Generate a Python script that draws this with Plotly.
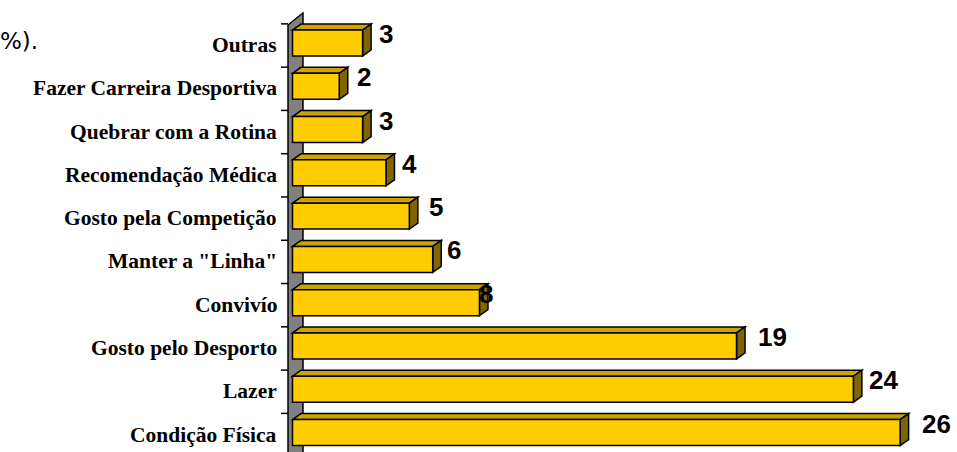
import plotly.graph_objects as go

# ---- data (bottom to top) ----
categories = ["Condição Física", "Lazer", "Gosto pelo Desporto", "Convivío",
              'Manter a "Linha"', "Gosto pela Competição", "Recomendação Médica",
              "Quebrar com a Rotina", "Fazer Carreira Desportiva", "Outras"]
values = [26, 24, 19, 8, 6, 5, 4, 3, 2, 3]
label_dx = [20, 14, 19, -2, 12, 18, 14, 14, 16, 14]   # label nudges (px)

# ---- geometry / style ----
W, H = 957, 452
PX_X = 23.37            # px per value unit
X0 = 292.5              # px position of value 0
YMIN, YMAX = -0.45, 9.9935
PX_Y = H / (YMAX - YMIN)
BAR_W = 0.6
DX = 8.5 / PX_X
DY = 6 / PX_Y

FRONT = "#FFCC00"
TOP = "#CCA300"
SIDE = "#806600"
LINE = dict(color="black", width=1.5)

fig = go.Figure()
fig.add_trace(go.Bar(
    y=categories, x=values, orientation="h", width=BAR_W,
    marker=dict(color=FRONT, line=LINE), hoverinfo="x+y",
))

shapes = []
# axis wall
wl, wr = -4.5 / PX_X, 10.5 / PX_X
ytf = 9 + 18 / PX_Y
ytb = ytf + 12 / PX_Y
ybf = YMIN - 20 / PX_Y
shapes.append(dict(type="path", xref="x", yref="y", layer="below",
                   path=f"M{wl},{ytf} L{wr},{ytb} L{wr},{ybf + 12 / PX_Y} L{wl},{ybf} Z",
                   fillcolor="#808080", line=LINE))
# tick marks
for i in range(len(categories)):
    yt = i + 0.5 - 2.5 / PX_Y
    shapes.append(dict(type="line", xref="x", yref="y", layer="below",
                       x0=-11.5 / PX_X, x1=wl, y0=yt, y1=yt, line=LINE))
# 3D faces of the bars
for i, v in enumerate(values):
    top = i + BAR_W / 2
    bot = i - BAR_W / 2
    shapes.append(dict(type="path", xref="x", yref="y", layer="below",
                       path=f"M0,{top} L{DX},{top + DY} L{v + DX},{top + DY} L{v},{top} Z",
                       fillcolor=TOP, line=LINE))
    shapes.append(dict(type="path", xref="x", yref="y", layer="below",
                       path=f"M{v},{top} L{v + DX},{top + DY} L{v + DX},{bot + DY} L{v},{bot} Z",
                       fillcolor=SIDE, line=LINE))

annotations = []
for i, (c, v) in enumerate(zip(categories, values)):
    annotations.append(dict(x=v, y=c, xref="x", yref="y", text=str(v),
                            showarrow=False, xanchor="left", yanchor="middle",
                            xshift=label_dx[i], yshift=9,
                            font=dict(family="Liberation Sans, Arial", size=26,
                                      color="black", weight="bold")))
    annotations.append(dict(x=0, y=c, xref="x", yref="y", text=c,
                            showarrow=False, xanchor="right", yanchor="middle",
                            xshift=-14, yshift=-2,
                            font=dict(family="Liberation Serif, Times New Roman", size=21.5,
                                      color="black", weight="bold")))
annotations.append(dict(x=0, y=1 - 41 / H, xref="paper", yref="paper", text="%).",
                        showarrow=False, xanchor="left", yanchor="middle", xshift=-2,
                        font=dict(family="DejaVu Sans, Verdana", size=23, color="black")))

fig.update_layout(
    width=W, height=H,
    margin=dict(l=0, r=0, t=0, b=0),
    paper_bgcolor="white", plot_bgcolor="white",
    showlegend=False,
    shapes=shapes, annotations=annotations,
    xaxis=dict(range=[-X0 / PX_X, (W - X0) / PX_X], visible=False, fixedrange=True),
    yaxis=dict(type="category", categoryorder="array", categoryarray=categories,
               range=[YMIN, YMAX], visible=False, fixedrange=True),
)

fig.write_html("out.html")
